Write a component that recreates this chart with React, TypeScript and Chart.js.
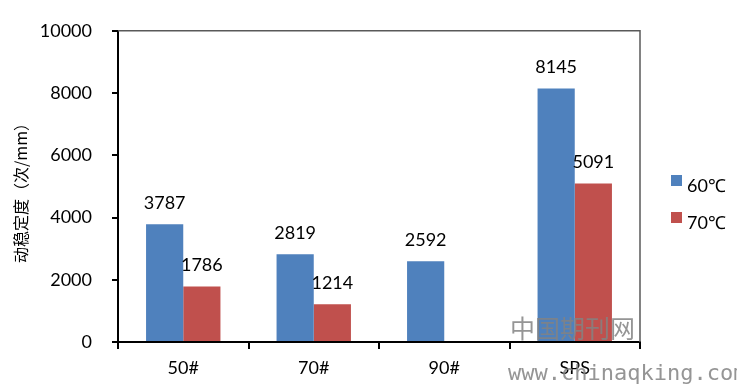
import React, { useEffect, useRef } from "react";
import { Chart, registerables } from "chart.js";

Chart.register(...registerables);

const categories = ["50#", "70#", "90#", "SPS"];
const series60 = [3787, 2819, 2592, 8145];
const series70: (number | null)[] = [1786, 1214, null, 5091];
const seriesNames = ["60℃", "70℃"];
const yTicks = [0, 2000, 4000, 6000, 8000, 10000];
const yTitle = "动稳定度（次/mm）";
const colors = ["#4F81BD", "#C0504D"];
const FONT = "Lato, 'Noto Sans', sans-serif";

export default function App() {
  const ref = useRef<HTMLCanvasElement | null>(null);
  useEffect(() => {
    if (!ref.current) return;
    const overlay = {
      id: "overlay",
      afterDraw(chart: any) {
        const ctx = chart.ctx as CanvasRenderingContext2D;
        const a = chart.chartArea;
        ctx.save();
        ctx.strokeStyle = "#595959";
        ctx.lineWidth = 1.5;
        ctx.beginPath();
        ctx.moveTo(a.left, a.top);
        ctx.lineTo(a.right, a.top);
        ctx.lineTo(a.right, a.bottom);
        ctx.stroke();
        ctx.fillStyle = "#000";
        ctx.font = `18px ${FONT}`;
        ctx.textAlign = "center";
        ctx.textBaseline = "middle";
        chart.data.datasets.forEach((ds: any, i: number) => {
          const meta = chart.getDatasetMeta(i);
          meta.data.forEach((el: any, j: number) => {
            const v = ds.data[j];
            if (v == null) return;
            ctx.fillText(String(v), el.x, el.y - 21);
          });
        });
        seriesNames.forEach((n, i) => {
          const y = 175 + i * 37;
          ctx.fillStyle = colors[i];
          ctx.fillRect(671, y, 11, 11);
          ctx.fillStyle = "#000";
          ctx.textAlign = "left";
          ctx.font = `18px ${FONT}`;
          ctx.fillText(n, 687, y + 11);
        });
        ctx.save();
        ctx.translate(21, 189);
        ctx.rotate(-Math.PI / 2);
        ctx.textAlign = "center";
        ctx.textBaseline = "middle";
        ctx.font = "16px 'Noto Sans CJK SC', sans-serif";
        ctx.fillStyle = "#000";
        ctx.fillText(yTitle, 0, 0);
        ctx.restore();
        ctx.fillStyle = "rgba(130,130,130,0.85)";
        ctx.textAlign = "left";
        ctx.textBaseline = "middle";
        ctx.font = "25px 'Noto Sans CJK SC', sans-serif";
        ctx.fillText("中国期刊网", 510, 328);
        ctx.font = "22px 'DejaVu Sans Mono', monospace";
        ctx.fillText("www.chinaqking.com", 508, 374);
        ctx.restore();
      },
    };
    const chart = new Chart(ref.current, {
      type: "bar",
      data: {
        labels: categories,
        datasets: [
          { label: seriesNames[0], data: series60, backgroundColor: colors[0] },
          { label: seriesNames[1], data: series70, backgroundColor: colors[1] },
        ],
      },
      options: {
        responsive: false,
        animation: false,
        layout: { padding: { top: 26, right: 97, left: 0, bottom: 0 } },
        datasets: { bar: { categoryPercentage: 0.57, barPercentage: 1 } },
        plugins: { legend: { display: false }, tooltip: { enabled: false } },
        scales: {
          x: {
            type: "category",
            offset: true,
            grid: { offset: true, drawOnChartArea: false, drawTicks: true, tickLength: 7, color: "#000", lineWidth: 2 },
            border: { color: "#000", width: 2 },
            ticks: { color: "#000", font: { family: FONT, size: 18 }, padding: 8 },
            afterFit: (s: any) => { s.height = 44; },
          },
          y: {
            min: 0,
            max: 10000,
            afterBuildTicks: (s: any) => { s.ticks = yTicks.map((v) => ({ value: v })); },
            grid: { drawOnChartArea: false, drawTicks: true, tickLength: 6, color: "#000", lineWidth: 2 },
            border: { color: "#000", width: 2 },
            ticks: { color: "#000", font: { family: FONT, size: 18 }, padding: 20, callback: (v: any) => String(v) },
            afterFit: (s: any) => { s.width = 118; },
          },
        },
      },
      plugins: [overlay],
    });
    return () => chart.destroy();
  }, []);
  return (
    <div style={{ position: "absolute", left: 0, top: 0, width: 737, height: 386, background: "#fff" }}>
      <canvas ref={ref} width={737} height={386} style={{ width: 737, height: 386, display: "block" }} />
    </div>
  );
}
